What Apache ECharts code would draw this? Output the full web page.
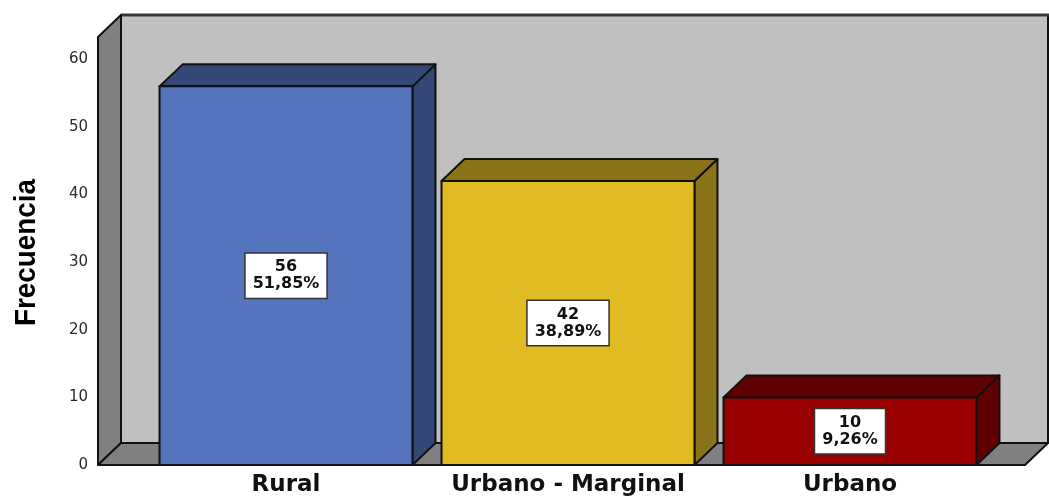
<!DOCTYPE html>
<html>
<head>
<meta charset="utf-8">
<script src="https://cdn.jsdelivr.net/npm/echarts@6/dist/echarts.min.js"></script>
<style>
  html, body { margin: 0; padding: 0; background: #ffffff; }
  #chart { width: 1049px; height: 497px; }
</style>
</head>
<body>
<div id="chart"></div>
<script>
// Area of residence: frequency counts
const categories = ['Rural', 'Urbano - Marginal', 'Urbano'];
const frequencies = [56, 42, 10];
const yTicks = [0, 10, 20, 30, 40, 50, 60];
const yTitle = 'Frecuencia';

const frontColors = ['#5475bd', '#e0bb21', '#990000'];
const shadeColors = ['#344878', '#8a7318', '#600000'];

const total = frequencies.reduce((a, b) => a + b, 0);
const pctText = v => (v / total * 100).toFixed(2).replace('.', ',') + '%';

// depth of the pseudo-3D box (pixels)
const DX = 23, DY = -22;
const EDGE = '#111111';

const chart = echarts.init(document.getElementById('chart'));

function renderFrame(params, api) {
  const cs = params.coordSys;
  const xL = cs.x - 47, xR = cs.x + cs.width + 34;
  const yT = cs.y, yB = cs.y + cs.height;
  const line = { stroke: EDGE, lineWidth: 2, lineJoin: 'round' };
  return {
    type: 'group',
    children: [
      { type: 'polygon', shape: { points: [[xL + DX, yT + DY], [xR + DX, yT + DY], [xR + DX, yB + DY], [xL + DX, yB + DY]] },
        style: Object.assign({ fill: '#c0c0c0' }, line) },
      { type: 'polyline', shape: { points: [[xL + DX, yT + DY], [xR + DX + 4, yT + DY]] },
        style: { stroke: '#3a3a3a', lineWidth: 3, fill: null } },
      { type: 'polygon', shape: { points: [[xL, yT], [xL + DX, yT + DY], [xL + DX, yB + DY], [xL, yB]] },
        style: Object.assign({ fill: '#808080' }, line) },
      { type: 'polygon', shape: { points: [[xL, yB], [xL + DX, yB + DY], [xR + DX, yB + DY], [xR, yB]] },
        style: Object.assign({ fill: '#808080' }, line) }
    ]
  };
}

function renderBar(params, api) {
  const idx = api.value(0);
  const val = api.value(1);
  const top = api.coord([idx, val]);
  const base = api.coord([idx, 0]);
  const w = api.size([1, 0])[0] * 0.897;
  const x1 = top[0] - w / 2, x2 = top[0] + w / 2;
  const yT = top[1], y0 = base[1];
  const line = { stroke: EDGE, lineWidth: 2, lineJoin: 'round' };
  const i = params.dataIndex;
  return {
    type: 'group',
    children: [
      { type: 'polygon', shape: { points: [[x2, yT], [x2 + DX, yT + DY], [x2 + DX, y0 + DY], [x2, y0]] },
        style: Object.assign({ fill: shadeColors[i] }, line) },
      { type: 'polygon', shape: { points: [[x1, yT], [x1 + DX, yT + DY], [x2 + DX, yT + DY], [x2, yT]] },
        style: Object.assign({ fill: shadeColors[i] }, line) },
      { type: 'rect', shape: { x: x1, y: yT, width: w, height: y0 - yT },
        style: Object.assign({ fill: frontColors[i] }, line) },
      { type: 'text', x: top[0], y: (yT + y0) / 2,
        style: {
          text: val + '\n' + pctText(val),
          fill: '#111111',
          font: 'bold 16px "DejaVu Sans", Verdana, sans-serif',
          align: 'center', verticalAlign: 'middle',
          lineHeight: 17,
          backgroundColor: '#ffffff',
          borderColor: '#333333', borderWidth: 1.5,
          padding: [5, 7, 5, 7]
        } }
    ]
  };
}

chart.setOption({
  animation: false,
  backgroundColor: '#ffffff',
  grid: { left: 145, right: 58, top: 37, bottom: 32 },
  graphic: [{
    type: 'text',
    left: 12,
    top: 179,
    rotation: Math.PI / 2,
    scaleX: 0.96,
    style: {
      text: yTitle,
      fill: '#000000',
      font: 'bold 29px "Liberation Sans", Arial, sans-serif'
    }
  }],
  xAxis: {
    type: 'category',
    data: categories,
    axisLine: { show: false },
    axisTick: { show: false },
    axisLabel: {
      interval: 0,
      margin: 9,
      color: '#111111',
      fontFamily: '"DejaVu Sans", Verdana, sans-serif',
      fontWeight: 'bold',
      fontSize: 23
    }
  },
  yAxis: {
    type: 'value',
    min: 0,
    max: 63.3,
    interval: 10,
    axisLine: { show: false },
    axisTick: { show: false },
    splitLine: { show: false },
    axisLabel: {
      margin: 57,
      color: '#2a2a2a',
      fontFamily: '"DejaVu Sans", Verdana, sans-serif',
      fontSize: 15,
      showMaxLabel: false,
      formatter: v => (yTicks.indexOf(v) >= 0 ? String(v) : '')
    }
  },
  series: [
    {
      type: 'custom',
      renderItem: renderFrame,
      data: [[0, 0]],
      silent: true,
      z: 1
    },
    {
      type: 'custom',
      renderItem: renderBar,
      data: frequencies.map((v, i) => [i, v]),
      z: 2
    }
  ]
});
</script>
</body>
</html>
